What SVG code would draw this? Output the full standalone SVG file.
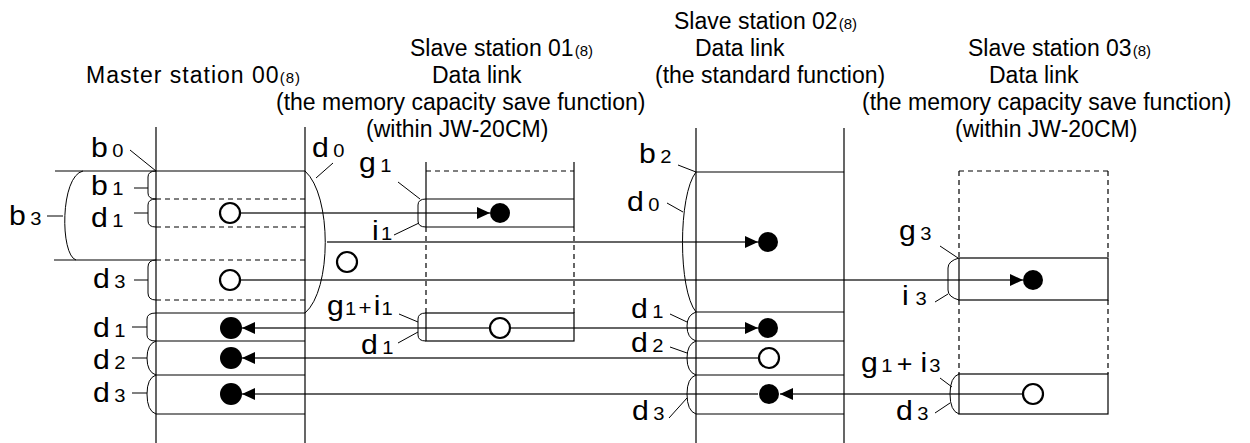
<svg xmlns="http://www.w3.org/2000/svg" width="1250" height="443" viewBox="0 0 1250 443">
<style>
.t{font-family:"Liberation Sans",Arial,sans-serif;font-size:23px;fill:#000}
.s8{font-size:15px}
.l{font-family:"Liberation Sans",Arial,sans-serif;font-size:27px;fill:#000}
.d{font-size:18px}
.ln{stroke:#000;stroke-width:1.2;fill:none}
.ds{stroke:#000;stroke-width:1.2;fill:none;stroke-dasharray:5 4}
.br{stroke:#000;stroke-width:1;fill:none}
.ld{stroke:#000;stroke-width:1;fill:none}
.cn{stroke:#333;stroke-width:1.3;fill:none}
.oc{fill:#fff;stroke:#000;stroke-width:2.2}
.fc{fill:#000}
</style>
<defs>
<marker id="ah" markerUnits="userSpaceOnUse" markerWidth="13" markerHeight="12" refX="13" refY="6" orient="auto">
<path d="M0,0 L13,6 L0,12 z" fill="#000"/>
</marker>
</defs>
<rect width="1250" height="443" fill="#fff"/>

<g id="connectors">
<line class="cn" x1="240" y1="213" x2="490" y2="213" marker-end="url(#ah)"/>
<path class="cn" d="M327,242 H758" marker-end="url(#ah)"/>
<line class="cn" x1="240" y1="280" x2="1023" y2="280" marker-end="url(#ah)"/>
<line class="cn" x1="490" y1="328" x2="242" y2="328" marker-end="url(#ah)"/>
<line class="cn" x1="510" y1="328" x2="758" y2="328" marker-end="url(#ah)"/>
<line class="cn" x1="759" y1="358" x2="242" y2="358" marker-end="url(#ah)"/>
<line class="cn" x1="1023" y1="394" x2="780" y2="394" marker-end="url(#ah)"/>
<line class="cn" x1="758" y1="394" x2="242" y2="394" marker-end="url(#ah)"/>
</g>

<g id="master">
<text class="t" x="86" y="83" textLength="214" lengthAdjust="spacing">Master station 00<tspan class="s8">(8)</tspan></text>
<line class="ln" x1="156" y1="127" x2="156" y2="443"/>
<line class="ln" x1="305" y1="127" x2="305" y2="443"/>
<line class="ln" x1="55" y1="171" x2="305" y2="171"/>
<line class="ds" x1="156" y1="199" x2="305" y2="199"/>
<line class="ds" x1="156" y1="227" x2="305" y2="227"/>
<line class="ln" x1="54" y1="260" x2="156" y2="260"/>
<line class="ds" x1="156" y1="260" x2="305" y2="260"/>
<line class="ds" x1="156" y1="300" x2="305" y2="300"/>
<line class="ln" x1="156" y1="313" x2="305" y2="313"/>
<line class="ln" x1="156" y1="341" x2="305" y2="341"/>
<line class="ln" x1="156" y1="375" x2="305" y2="375"/>
<line class="ln" x1="156" y1="414" x2="305" y2="414"/>
<path class="br" d="M156,171 Q148,171 148,177 V193 Q148,199 156,199"/>
<path class="br" d="M156,199 Q148,199 148,205 V221 Q148,227 156,227"/>
<path class="br" d="M156,260 Q148,260 148,267 V293 Q148,300 156,300"/>
<path class="br" d="M156,313 Q147,313 147,319 V335 Q147,341 156,341"/>
<path class="br" d="M156,341 Q147,344 147,358 Q147,372 156,375"/>
<path class="br" d="M156,375 Q147,378 147,394 Q147,411 156,414"/>
<path class="br" d="M83,171 C60,176 60,255 76,260"/>
<path class="br" d="M305,171 C332,195 332,290 305,313"/>
<line class="ld" x1="130" y1="150" x2="156" y2="171"/>
<line class="ld" x1="134" y1="188" x2="148" y2="188"/>
<line class="ld" x1="134" y1="213" x2="148" y2="213"/>
<line class="ld" x1="47" y1="216" x2="63" y2="216"/>
<line class="ld" x1="134" y1="280" x2="148" y2="280"/>
<line class="ld" x1="132" y1="327" x2="147" y2="327"/>
<line class="ld" x1="132" y1="358" x2="147" y2="358"/>
<line class="ld" x1="132" y1="393" x2="147" y2="393"/>
<line class="ld" x1="333" y1="163" x2="316" y2="178"/>
<text class="l" transform="translate(91,157) scale(1.12,1)">b<tspan class="d" dx="4">0</tspan></text>
<text class="l" transform="translate(91,195) scale(1.12,1)">b<tspan class="d" dx="4">1</tspan></text>
<text class="l" transform="translate(91,227) scale(1.12,1)">d<tspan class="d" dx="4">1</tspan></text>
<text class="l" transform="translate(9,225) scale(1.12,1)">b<tspan class="d" dx="4">3</tspan></text>
<text class="l" transform="translate(93,288) scale(1.12,1)">d<tspan class="d" dx="4">3</tspan></text>
<text class="l" transform="translate(93,337) scale(1.12,1)">d<tspan class="d" dx="4">1</tspan></text>
<text class="l" transform="translate(93,369) scale(1.12,1)">d<tspan class="d" dx="4">2</tspan></text>
<text class="l" transform="translate(93,402) scale(1.12,1)">d<tspan class="d" dx="4">3</tspan></text>
<text class="l" transform="translate(312,157) scale(1.12,1)">d<tspan class="d" dx="4">0</tspan></text>
<circle class="oc" cx="230" cy="213" r="10"/>
<circle class="oc" cx="230" cy="280" r="10"/>
<circle class="oc" cx="347" cy="262" r="10"/>
<circle class="fc" cx="231" cy="328" r="11"/>
<circle class="fc" cx="231" cy="358" r="11"/>
<circle class="fc" cx="231" cy="394" r="11"/>
</g>

<g id="slave01">
<text class="t" x="410" y="56">Slave station 01<tspan class="s8" dx="1">(8)</tspan></text>
<text class="t" x="432" y="83">Data link</text>
<text class="t" x="276" y="110">(the memory capacity save function)</text>
<text class="t" x="366" y="137">(within JW-20CM)</text>
<line class="ln" x1="426" y1="162" x2="426" y2="227"/>
<line class="ln" x1="574" y1="162" x2="574" y2="227"/>
<line class="ds" x1="426" y1="171" x2="574" y2="171"/>
<line class="ln" x1="426" y1="199" x2="574" y2="199"/>
<line class="ln" x1="426" y1="227" x2="574" y2="227"/>
<line class="ds" x1="426" y1="227" x2="426" y2="313"/>
<line class="ds" x1="574" y1="227" x2="574" y2="313"/>
<rect class="ln" x="426" y="313" width="148" height="28"/>
<path class="br" d="M426,199 Q418,199 418,205 V221 Q418,227 426,227"/>
<path class="br" d="M426,313 Q418,313 418,319 V335 Q418,341 426,341"/>
<line class="ld" x1="398" y1="182" x2="420" y2="199"/>
<line class="ld" x1="394" y1="235" x2="419" y2="223"/>
<line class="ld" x1="399" y1="314" x2="418" y2="322"/>
<line class="ld" x1="398" y1="343" x2="418" y2="332"/>
<text class="l" transform="translate(359,172) scale(1.12,1)">g<tspan class="d" dx="4">1</tspan></text>
<text class="l" transform="translate(372,240) scale(1.12,1)">i<tspan class="d" dx="2">1</tspan></text>
<text class="l" transform="translate(327,315) scale(1.12,1)">g<tspan class="d" dx="1">1</tspan><tspan style="font-size:20px" dx="2">+</tspan><tspan dx="2">i</tspan><tspan class="d" dx="1">1</tspan></text>
<text class="l" transform="translate(361,354) scale(1.12,1)">d<tspan class="d" dx="4">1</tspan></text>
<circle class="fc" cx="500" cy="213" r="10"/>
<circle class="oc" cx="500" cy="328" r="10"/>
</g>

<g id="slave02">
<text class="t" x="674" y="29">Slave station 02<tspan class="s8" dx="1">(8)</tspan></text>
<text class="t" x="695" y="56">Data link</text>
<text class="t" x="655" y="83">(the standard function)</text>
<line class="ln" x1="696" y1="128" x2="696" y2="443"/>
<line class="ln" x1="844" y1="128" x2="844" y2="443"/>
<line class="ln" x1="696" y1="172" x2="844" y2="172"/>
<line class="ln" x1="696" y1="312" x2="844" y2="312"/>
<line class="ln" x1="696" y1="341" x2="844" y2="341"/>
<line class="ln" x1="696" y1="375" x2="844" y2="375"/>
<line class="ln" x1="696" y1="414" x2="844" y2="414"/>
<path class="br" d="M696,172 C678,195 678,290 696,312"/>
<path class="br" d="M696,312 Q687,315 687,326 Q687,338 696,341"/>
<path class="br" d="M696,341 Q687,344 687,358 Q687,372 696,375"/>
<path class="br" d="M696,375 Q687,378 687,394 Q687,411 696,414"/>
<line class="ld" x1="678" y1="165" x2="696" y2="172"/>
<line class="ld" x1="667" y1="203" x2="683" y2="212"/>
<line class="ld" x1="670" y1="314" x2="687" y2="322"/>
<line class="ld" x1="670" y1="347" x2="687" y2="353"/>
<line class="ld" x1="669" y1="418" x2="687" y2="398"/>
<text class="l" transform="translate(639,163) scale(1.12,1)">b<tspan class="d" dx="4">2</tspan></text>
<text class="l" transform="translate(627,211) scale(1.12,1)">d<tspan class="d" dx="4">0</tspan></text>
<text class="l" transform="translate(631,318) scale(1.12,1)">d<tspan class="d" dx="4">1</tspan></text>
<text class="l" transform="translate(631,352) scale(1.12,1)">d<tspan class="d" dx="4">2</tspan></text>
<text class="l" transform="translate(632,420) scale(1.12,1)">d<tspan class="d" dx="4">3</tspan></text>
<circle class="fc" cx="768" cy="242" r="10"/>
<circle class="fc" cx="768" cy="328" r="10"/>
<circle class="oc" cx="769" cy="358" r="10"/>
<circle class="fc" cx="769" cy="394" r="10"/>
</g>

<g id="slave03">
<text class="t" x="968" y="56">Slave station 03<tspan class="s8" dx="1">(8)</tspan></text>
<text class="t" x="989" y="83">Data link</text>
<text class="t" x="862" y="110">(the memory capacity save function)</text>
<text class="t" x="955" y="137">(within JW-20CM)</text>
<line class="ds" x1="959" y1="171" x2="1108" y2="171"/>
<line class="ds" x1="959" y1="171" x2="959" y2="258"/>
<line class="ds" x1="1108" y1="171" x2="1108" y2="258"/>
<rect class="ln" x="959" y="258" width="149" height="42"/>
<line class="ds" x1="959" y1="300" x2="959" y2="374"/>
<line class="ds" x1="1108" y1="300" x2="1108" y2="374"/>
<rect class="ln" x="959" y="374" width="149" height="40"/>
<path class="br" d="M959,258 Q948,261 948,268 V290 Q948,297 959,300"/>
<path class="br" d="M959,374 Q950,377 950,394 Q950,411 959,414"/>
<line class="ld" x1="940" y1="246" x2="958" y2="258"/>
<line class="ld" x1="935" y1="302" x2="948" y2="294"/>
<line class="ld" x1="940" y1="378" x2="952" y2="387"/>
<line class="ld" x1="935" y1="413" x2="950" y2="403"/>
<text class="l" transform="translate(899,240) scale(1.12,1)">g<tspan class="d" dx="4">3</tspan></text>
<text class="l" transform="translate(902,305) scale(1.12,1)">i<tspan class="d" dx="6">3</tspan></text>
<text class="l" transform="translate(861,372) scale(1.12,1)">g<tspan class="d" dx="3">1</tspan><tspan style="font-size:24px" dx="4">+</tspan><tspan dx="7">i</tspan><tspan class="d" dx="2">3</tspan></text>
<text class="l" transform="translate(896,420) scale(1.12,1)">d<tspan class="d" dx="4">3</tspan></text>
<circle class="fc" cx="1033" cy="280" r="10"/>
<circle class="oc" cx="1033" cy="394" r="10"/>
</g>
</svg>
